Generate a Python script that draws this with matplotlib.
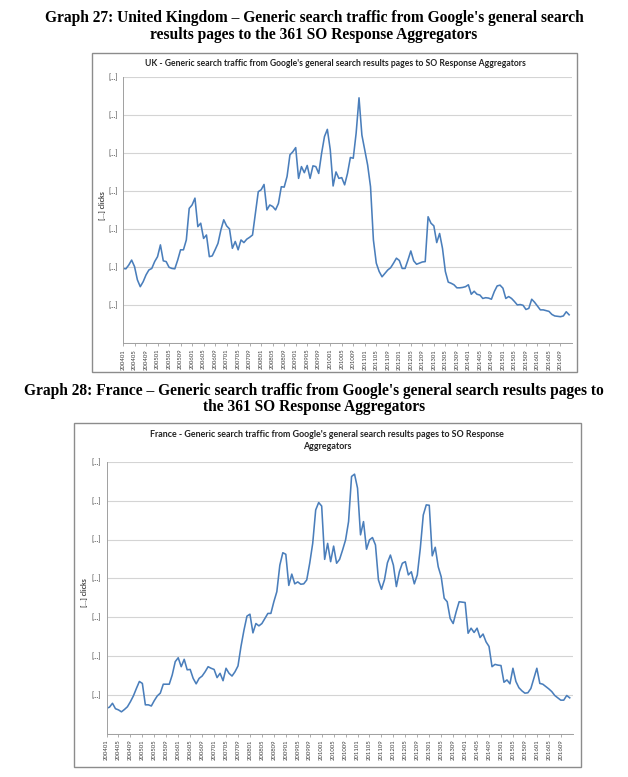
import numpy as np
import matplotlib.pyplot as plt
from matplotlib.patches import Rectangle

W, H = 628, 777

# monthly categories 2004-01 .. 2016-12
months = [f"{y}{m:02d}" for y in range(2004, 2017) for m in range(1, 13)]

uk_clicks = [
    1.97, 1.96, 2.06, 2.19, 2.02, 1.67, 1.49, 1.62, 1.80, 1.93, 1.97, 2.15,
    2.28, 2.59, 2.17, 2.15, 2.00, 1.97, 1.96, 2.19, 2.46, 2.46, 2.72, 3.55,
    3.64, 3.82, 3.07, 3.16, 2.76, 2.85, 2.28, 2.30, 2.46, 2.63, 2.98, 3.25,
    3.09, 3.01, 2.50, 2.68, 2.46, 2.72, 2.65, 2.74, 2.79, 2.85, 3.42, 3.99,
    4.04, 4.18, 3.51, 3.64, 3.60, 3.51, 3.68, 4.12, 4.11, 4.39, 4.96, 5.04,
    5.15, 4.34, 4.65, 4.49, 4.68, 4.34, 4.67, 4.65, 4.47, 5.00, 5.44, 5.63,
    5.10, 4.14, 4.51, 4.34, 4.36, 4.17, 4.47, 4.89, 4.87, 5.53, 6.46, 5.48,
    5.09, 4.69, 4.12, 2.72, 2.11, 1.89, 1.75, 1.84, 1.93, 1.99, 2.11, 2.24,
    2.18, 1.97, 1.97, 2.19, 2.43, 2.17, 2.08, 2.11, 2.14, 2.15, 3.33, 3.16,
    3.09, 2.65, 2.89, 2.50, 1.89, 1.61, 1.58, 1.54, 1.46, 1.46, 1.47, 1.49,
    1.54, 1.29, 1.37, 1.29, 1.27, 1.18, 1.20, 1.19, 1.16, 1.36, 1.51, 1.53,
    1.45, 1.18, 1.23, 1.18, 1.10, 1.01, 1.02, 1.00, 0.89, 0.92, 1.16, 1.08,
    0.98, 0.88, 0.88, 0.86, 0.84, 0.76, 0.72, 0.71, 0.70, 0.72, 0.83, 0.75,
]

fr_clicks = [
    0.66, 0.69, 0.79, 0.65, 0.62, 0.57, 0.63, 0.70, 0.83, 0.98, 1.17, 1.35,
    1.30, 0.75, 0.75, 0.72, 0.86, 0.98, 1.05, 1.28, 1.28, 1.28, 1.52, 1.86,
    1.96, 1.73, 1.92, 1.65, 1.66, 1.43, 1.29, 1.43, 1.49, 1.60, 1.73, 1.69,
    1.66, 1.45, 1.56, 1.37, 1.69, 1.56, 1.49, 1.60, 1.75, 2.25, 2.67, 3.03,
    3.08, 2.60, 2.84, 2.78, 2.84, 2.97, 3.10, 3.10, 3.40, 3.66, 4.34, 4.66,
    4.62, 3.82, 4.11, 3.86, 3.91, 3.85, 3.86, 3.96, 4.39, 4.90, 5.76, 5.95,
    5.86, 4.49, 4.90, 4.43, 4.83, 4.39, 4.49, 4.73, 4.99, 5.46, 6.62, 6.68,
    6.32, 5.12, 5.46, 4.75, 4.99, 5.05, 4.86, 3.96, 3.72, 3.96, 4.40, 4.60,
    4.34, 3.79, 4.17, 4.39, 4.43, 4.09, 4.17, 3.86, 4.09, 4.77, 5.63, 5.89,
    5.88, 4.58, 4.80, 4.30, 4.04, 3.49, 3.40, 2.97, 2.84, 3.14, 3.40, 3.39,
    3.38, 2.59, 2.72, 2.61, 2.72, 2.48, 2.57, 2.37, 2.25, 1.73, 1.79, 1.77,
    1.76, 1.33, 1.39, 1.29, 1.69, 1.35, 1.19, 1.11, 1.05, 1.06, 1.17, 1.43,
    1.69, 1.30, 1.28, 1.22, 1.16, 1.09, 0.99, 0.93, 0.87, 0.87, 0.99, 0.93,
]

y_ticks = [0, 1, 2, 3, 4, 5, 6, 7]


def fx(px):
    return px / W


def fy(py):
    return 1 - py / H


def chart(fig, box, plot, values, ylab_x):
    # box and plot given as (left, top, right, bottom) in pixels
    l, t, r, b = box
    fig.patches.append(Rectangle((fx(l), fy(b)), fx(r - l), (b - t) / H,
                                 transform=fig.transFigure, fill=False,
                                 edgecolor="#8c8c8c", linewidth=1.0))
    l, t, r, b = plot
    ax = fig.add_axes([fx(l), fy(b), fx(r - l), (b - t) / H])
    x = np.arange(len(values))
    ax.plot(x, values, color="#4a7ebb", linewidth=1.15)
    ax.set_xlim(0, 156)
    ax.set_ylim(0, 7)
    ax.set_yticks(y_ticks)
    ax.set_yticklabels(["" if v == 0 else "[…]" for v in y_ticks],
                       fontsize=5, family="Lato", color="#333333")
    ax.grid(axis="y", color="#d4d4d4", linewidth=0.8)
    ax.set_axisbelow(True)
    ax.set_xticks(x[::4])
    ax.set_xticklabels(months[::4], rotation=90, fontsize=4.3,
                       color="#404040", family="Lato")
    ax.tick_params(axis="y", length=0, pad=4)
    ax.tick_params(axis="x", length=2.5, color="#a0a0a0", width=0.6, pad=1.5)
    for s in ["top", "right"]:
        ax.spines[s].set_visible(False)
    ax.spines["left"].set_color("#a0a0a0")
    ax.spines["bottom"].set_color("#a0a0a0")
    ax.spines["left"].set_linewidth(0.7)
    ax.spines["bottom"].set_linewidth(0.7)
    fig.text(fx(ylab_x), fy((t + b) / 2 - 5), "[…] clicks", rotation=90,
             ha="center", va="center", fontsize=5, family="Lato",
             weight="bold", color="#404040")
    return ax


fig = plt.figure(figsize=(W / 100, H / 100), dpi=100)

serif = ["Liberation Serif", "DejaVu Serif"]
fig.text(0.5, fy(18), "Graph 27: United Kingdom – Generic search traffic from Google's general search",
         ha="center", va="center", fontsize=11.2, weight="bold", family=serif)
fig.text(0.5, fy(35), "results pages to the 361 SO Response Aggregators",
         ha="center", va="center", fontsize=11.2, weight="bold", family=serif)

chart(fig, (92, 53, 577, 372), (123, 77.3, 572, 343.3), uk_clicks, 103)
fig.text(fx(335), fy(64),
         "UK - Generic search traffic from Google's general search results pages to SO Response Aggregators",
         ha="center", va="center", fontsize=6.2, weight="bold", family="Lato",
         color="#222222")

fig.text(0.5, fy(391), "Graph 28: France – Generic search traffic from Google's general search results pages to",
         ha="center", va="center", fontsize=11.2, weight="bold", family=serif)
fig.text(0.5, fy(407), "the 361 SO Response Aggregators",
         ha="center", va="center", fontsize=11.2, weight="bold", family=serif)

chart(fig, (74, 423, 581, 767), (106.5, 461.7, 572.7, 734), fr_clicks, 85)
fig.text(fx(327), fy(440.5),
         "France - Generic search traffic from Google's general search results pages to SO Response\nAggregators",
         ha="center", va="center", fontsize=6.4, weight="bold", family="Lato",
         color="#222222", linespacing=1.4)

fig.savefig("out.png", dpi=100)
